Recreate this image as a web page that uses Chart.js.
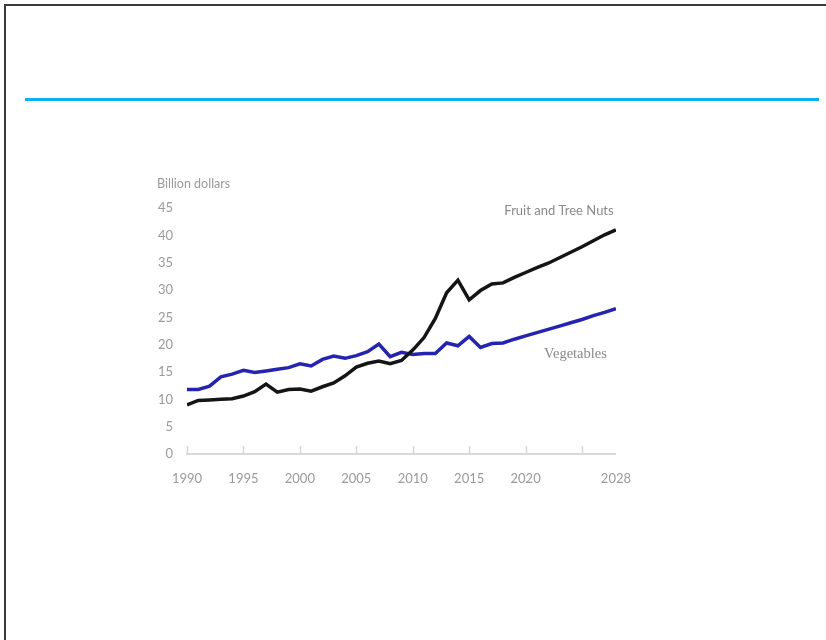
<!DOCTYPE html>
<html>
<head>
<meta charset="utf-8">
<script src="https://cdn.jsdelivr.net/npm/chart.js@4/dist/chart.umd.min.js"></script>
<style>
  html, body { margin: 0; padding: 0; background: #fff; }
  body { width: 826px; height: 640px; position: relative; overflow: hidden; }
  .frame {
    position: absolute; left: 4px; top: 4px; right: -4px; bottom: -4px;
    border-top: 2px solid #3a3a3a; border-left: 2px solid #3a3a3a;
  }
  .rule { position: absolute; left: 25px; top: 98px; width: 794px; height: 3px; background: #0cb0ee; }
  .wrap { position: absolute; left: 140px; top: 160px; width: 508px; height: 330px; }
</style>
</head>
<body>
<div class="frame"></div>
<div class="rule"></div>
<div class="wrap"><canvas id="chart" width="508" height="330"></canvas></div>
<script>
const years = []
for (let y = 1990; y <= 2028; y++) years.push(y)

const fruitNuts = [
  9.0, 9.8, 9.9, 10.0, 10.1, 10.6, 11.4, 12.8, 11.3, 11.8,
  11.9, 11.5, 12.3, 13.0, 14.3, 15.9, 16.6, 17.0, 16.5, 17.1,
  19.0, 21.3, 24.8, 29.5, 31.8, 28.2, 29.9, 31.1, 31.3, 32.3,
  33.2, 34.1, 34.9, 35.9, 36.9, 37.9, 39.0, 40.1, 41.0,
]
const vegetables = [
  11.8, 11.8, 12.4, 14.1, 14.6, 15.3, 14.9, 15.2, 15.5, 15.8,
  16.5, 16.1, 17.3, 17.9, 17.5, 18.0, 18.7, 20.1, 17.8, 18.6,
  18.2, 18.4, 18.4, 20.3, 19.8, 21.5, 19.5, 20.2, 20.3, 21.0,
  21.6, 22.2, 22.8, 23.4, 24.0, 24.6, 25.3, 25.9, 26.6,
]
const xTicks = [1990, 1995, 2000, 2005, 2010, 2015, 2020, 2025, 2028]
const xLabels = ['1990', '1995', '2000', '2005', '2010', '2015', '2020', '', '2028']
const tickMarks = [1990, 1995, 2000, 2005, 2010, 2015, 2020, 2025]
const yTicks = [0, 5, 10, 15, 20, 25, 30, 35, 40, 45]

const textGrey = '#9a9a9a'

// short upward tick marks on the x axis plus the text labels
const extras = {
  id: 'extras',
  afterDatasetsDraw(chart) {
    const { ctx, scales: { x, y } } = chart
    const base = y.getPixelForValue(0)
    ctx.save()
    ctx.strokeStyle = '#d6d6d6'
    ctx.lineWidth = 1.5
    tickMarks.forEach((t) => {
      const px = Math.round(x.getPixelForValue(t)) + 0.5
      ctx.beginPath()
      ctx.moveTo(px, base)
      ctx.lineTo(px, base - 8)
      ctx.stroke()
    })

    ctx.fillStyle = textGrey
    ctx.textBaseline = 'middle'
    ctx.font = '12.5px Lato'
    ctx.textAlign = 'left'
    ctx.fillText('Billion dollars', chart.chartArea.left - 30, y.getPixelForValue(49.4))

    ctx.fillStyle = '#8a8a8a'
    ctx.font = '13px Lato'
    ctx.textAlign = 'right'
    ctx.fillText('Fruit and Tree Nuts', x.getPixelForValue(2027.8), y.getPixelForValue(44.5))

    ctx.font = '14.5px "Liberation Serif"'
    ctx.fillText('Vegetables', x.getPixelForValue(2027.2), y.getPixelForValue(18.2))
    ctx.restore()
  },
}

new Chart(document.getElementById('chart'), {
  type: 'line',
  data: {
    datasets: [
      {
        label: 'Fruit and Tree Nuts',
        data: years.map((yr, i) => ({ x: yr, y: fruitNuts[i] })),
        borderColor: '#151515',
        borderWidth: 3.5,
        pointRadius: 0,
        tension: 0,
      },
      {
        label: 'Vegetables',
        data: years.map((yr, i) => ({ x: yr, y: vegetables[i] })),
        borderColor: '#2424b0',
        borderWidth: 3.5,
        pointRadius: 0,
        tension: 0,
      },
    ],
  },
  options: {
    responsive: false,
    animation: false,
    layout: { padding: { top: 48, right: 17, left: 0, bottom: 0 } },
    scales: {
      x: {
        type: 'linear',
        min: 1990,
        max: 2028,
        afterBuildTicks: (s) => { s.ticks = xTicks.map((v) => ({ value: v })) },
        afterFit: (s) => { s.height = 36 },
        grid: { display: false, drawTicks: false },
        border: { display: true, color: '#d9d9d9', width: 2 },
        ticks: {
          padding: 17,
          color: textGrey,
          font: { family: 'Lato', size: 13 },
          maxRotation: 0,
          autoSkip: false,
          callback: (v) => xLabels[xTicks.indexOf(v)],
        },
      },
      y: {
        min: 0,
        max: 45,
        afterBuildTicks: (s) => { s.ticks = yTicks.map((v) => ({ value: v })) },
        afterFit: (s) => { s.width = 47 },
        grid: { display: false, drawTicks: false },
        border: { display: false },
        ticks: {
          padding: 14,
          color: textGrey,
          font: { family: 'Lato', size: 13 },
        },
      },
    },
    plugins: {
      legend: { display: false },
      tooltip: { enabled: false },
    },
  },
  plugins: [extras],
})
</script>
</body>
</html>
